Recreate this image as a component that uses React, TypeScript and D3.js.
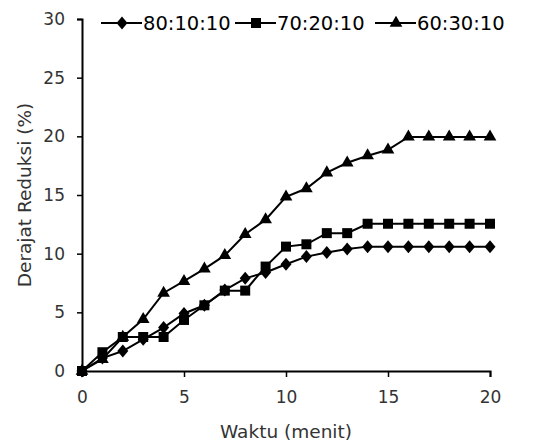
import { useEffect, useRef } from "react"
import * as d3 from "d3"

const waktu = [0, 1, 2, 3, 4, 5, 6, 7, 8, 9, 10, 11, 12, 13, 14, 15, 16, 17, 18, 19, 20]
const seri80 = [0, 1.1, 1.7, 2.7, 3.7, 4.9, 5.6, 6.9, 7.9, 8.4, 9.1, 9.75, 10.1, 10.4, 10.6, 10.6, 10.6, 10.6, 10.6, 10.6, 10.6]
const seri70 = [0, 1.6, 2.9, 2.9, 2.9, 4.35, 5.6, 6.85, 6.85, 8.9, 10.6, 10.8, 11.75, 11.75, 12.55, 12.55, 12.55, 12.55, 12.55, 12.55, 12.55]
const seri60 = [0, 1.0, 2.9, 4.4, 6.65, 7.65, 8.7, 9.85, 11.65, 12.9, 14.85, 15.55, 16.9, 17.75, 18.35, 18.85, 19.95, 19.95, 19.95, 19.95, 19.95]
const labels = ["80:10:10", "70:20:10", "60:30:10"]
const xTicks = [0, 5, 10, 15, 20]
const yTicks = [0, 5, 10, 15, 20, 25, 30]

// wide diamond like the spreadsheet marker
const diamond = "M0,-6.5L5.5,0L0,6.5L-5.5,0Z"

export default function App() {
    const ref = useRef<SVGSVGElement>(null)

    useEffect(() => {
        const svg = d3.select(ref.current)
        svg.selectAll("*").remove()

        const font = "'DejaVu Sans', Verdana, sans-serif"
        const left = 82, right = 490, top = 19, bottom = 371

        const x = d3.scaleLinear().domain([0, 20]).range([left, right])
        const y = d3.scaleLinear().domain([0, 30]).range([bottom, top])

        const xAxis = svg.append("g")
            .attr("transform", `translate(0,${bottom})`)
            .call(d3.axisBottom(x).tickValues(xTicks).tickSize(6).tickPadding(14))
        const yAxis = svg.append("g")
            .attr("transform", `translate(${left},0)`)
            .call(d3.axisLeft(y).tickValues(yTicks).tickSize(5).tickPadding(12))

        for (const ax of [xAxis, yAxis]) {
            ax.select(".domain").attr("stroke", "#000").attr("stroke-width", 2)
            ax.selectAll(".tick line").attr("stroke", "#000").attr("stroke-width", 1.5)
            ax.selectAll(".tick text")
                .attr("fill", "#333")
                .style("font-family", font)
                .style("font-size", "17px")
        }

        svg.append("text")
            .attr("x", (left + right) / 2)
            .attr("y", 438)
            .attr("text-anchor", "middle")
            .attr("fill", "#333")
            .style("font-family", font)
            .style("font-size", "18.5px")
            .text("Waktu (menit)")

        svg.append("text")
            .attr("transform", `translate(31,${(top + bottom) / 2}) rotate(-90)`)
            .attr("text-anchor", "middle")
            .attr("fill", "#333")
            .style("font-family", font)
            .style("font-size", "18.5px")
            .text("Derajat Reduksi (%)")

        const series = [
            { name: labels[0], values: seri80, marker: diamond },
            { name: labels[1], values: seri70, marker: d3.symbol().type(d3.symbolSquare).size(100)() },
            { name: labels[2], values: seri60, marker: d3.symbol().type(d3.symbolTriangle).size(70)() },
        ]

        const line = d3.line<number>()
            .x((_, i) => x(waktu[i]))
            .y(d => y(d))

        series.forEach(s => {
            const g = svg.append("g")
            g.append("path")
                .attr("d", line(s.values))
                .attr("fill", "none")
                .attr("stroke", "#000")
                .attr("stroke-width", 2)
            g.selectAll("path.m")
                .data(s.values)
                .join("path")
                .attr("class", "m")
                .attr("d", s.marker)
                .attr("transform", (d, i) => `translate(${x(waktu[i])},${y(d)})`)
                .attr("fill", "#000")
        })

        // legend
        const legendX = [101, 235, 375]
        series.forEach((s, i) => {
            const g = svg.append("g").attr("transform", `translate(${legendX[i]},23)`)
            g.append("line")
                .attr("x1", 0).attr("x2", 41)
                .attr("stroke", "#000").attr("stroke-width", 2)
            g.append("path")
                .attr("d", s.marker)
                .attr("transform", "translate(21,0)")
                .attr("fill", "#000")
            g.append("text")
                .attr("x", 42)
                .attr("dy", "0.36em")
                .attr("fill", "#000")
                .style("font-family", font)
                .style("font-size", "19.5px")
                .text(s.name)
        })
    }, [])

    return (
        <svg
            ref={ref}
            width={543}
            height={446}
            style={{ position: "absolute", left: 0, top: 0, background: "#fff" }}
        />
    )
}
